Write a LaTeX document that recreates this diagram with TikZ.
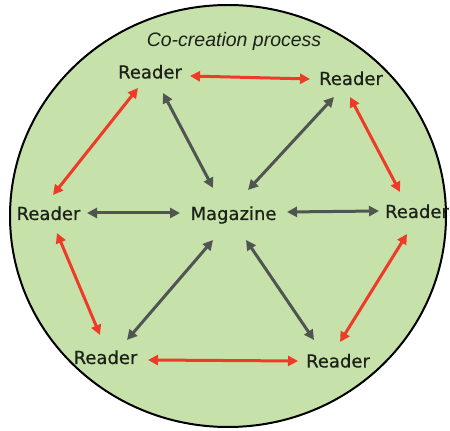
\documentclass[tikz,border=0pt]{standalone}
\usepackage{fontspec}
\setmainfont{Liberation Sans}
\newfontfamily\lblfont[FakeBold=0.6]{DejaVu Sans}
\usetikzlibrary{arrows.meta,calc}
\definecolor{bggreen}{HTML}{C6E1AA}
\definecolor{redarrow}{HTML}{EE3A26}
\definecolor{grayarrow}{HTML}{505552}
\definecolor{txt}{HTML}{1C221A}
\tikzset{
  lbl/.style={font=\lblfont\fontsize{18}{22}\selectfont, text=txt, inner sep=0pt, text height=13pt, text depth=0pt},
  redlink/.style={draw=redarrow, line width=3pt, {Triangle[length=10pt,width=10pt]}-{Triangle[length=10pt,width=10pt]}},
  graylink/.style={draw=grayarrow, line width=3pt, {Triangle[length=10pt,width=10pt]}-{Triangle[length=10pt,width=10pt]}}
}
\begin{document}
\begin{tikzpicture}[x=1pt,y=1pt]
\useasboundingbox (0,0) rectangle (450,431);
\fill[white] (0,0) rectangle (450,431);
\draw[fill=bggreen, draw=black, line width=2pt] (228,215) ellipse [x radius=218, y radius=211];

\node[font=\fontsize{19.5}{22}\selectfont\itshape, text=txt, inner sep=0pt, text height=14pt, text depth=0pt] (title) at (234,391) {Co-creation process};
\node[lbl] (tl) at (150,359) {Reader};
\node[lbl] (tr) at (351,352.5) {Reader};
\node[lbl] (l) at (48.5,217.5) {Reader};
\node[lbl] (m) at (233.5,217.5) {Magazine};
\node[lbl] (r) at (417,219.5) {Reader};
\node[lbl] (bl) at (105.5,73.5) {Reader};
\node[lbl] (br) at (338,70) {Reader};

% red reader-reader links
\draw[redlink] ($(tl)+(40,-4)$) -- ($(tr)+(-41,-0.5)$);
\draw[redlink] ($(tl)+(-12,-16)$) -- ($(l)+(4.5,18.5)$);
\draw[redlink] ($(tr)+(-1,-18.5)$) -- ($(r)+(-17,19.5)$);
\draw[redlink] ($(l)+(8.5,-19.5)$) -- ($(bl)+(-5.5,22.5)$);
\draw[redlink] ($(r)+(-10,-22.5)$) -- ($(br)+(2,19)$);
\draw[redlink] ($(bl)+(42.5,-2.5)$) -- ($(br)+(-40,0)$);

% gray reader-magazine links
\draw[graylink] ($(tl)+(13,-21)$) -- ($(m)+(-20.5,25.5)$);
\draw[graylink] ($(tr)+(-17,-18.5)$) -- ($(m)+(14.5,23.5)$);
\draw[graylink] ($(l)+(38.5,0.5)$) -- ($(m)+(-53.5,0.5)$);
\draw[graylink] ($(m)+(53.5,1.5)$) -- ($(r)+(-38,0.5)$);
\draw[graylink] ($(bl)+(21.5,17.5)$) -- ($(m)+(-20.5,-26.5)$);
\draw[graylink] ($(br)+(-24,21)$) -- ($(m)+(12.5,-26.5)$);
\end{tikzpicture}
\end{document}
